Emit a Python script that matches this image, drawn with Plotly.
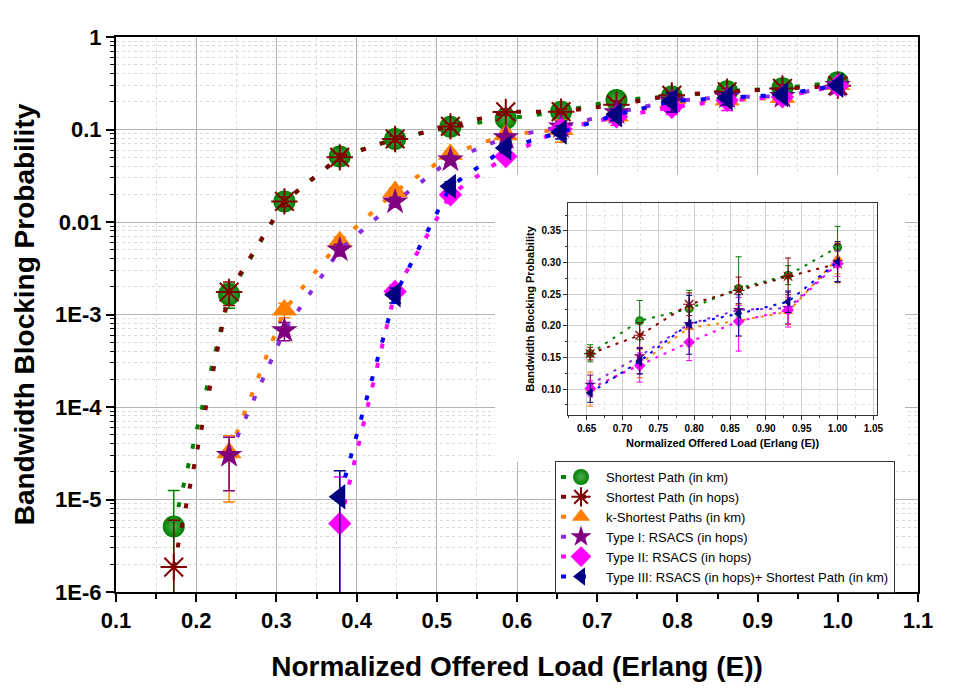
# %%
import plotly.graph_objects as go

# %% Data (13 load points, inset repeats the last 6)
load = [0.172, 0.241, 0.310, 0.379, 0.448, 0.517, 0.586, 0.655, 0.724, 0.793, 0.862, 0.931, 1.000]

sp_km = [5.1e-6, 1.65e-3, 0.0167, 0.051, 0.079, 0.107, 0.131, 0.156, 0.208, 0.227, 0.259, 0.280, 0.324]
sp_km_hi = [7.4e-6, 4.8e-4, 2.5e-3, 5e-3, 6e-3, 7e-3, 0.012, 0.014, 0.032, 0.029, 0.050, 0.015, 0.033]
sp_km_lo = [5.0e-6, 4.8e-4, 2.5e-3, 5e-3, 6e-3, 7e-3, 0.012, 0.013, 0.030, 0.025, 0.045, 0.015, 0.030]

sp_hops = [1.86e-6, 1.75e-3, 0.0167, 0.050, 0.079, 0.108, 0.155, 0.156, 0.185, 0.234, 0.256, 0.278, 0.298]
sp_hops_hi = [4.1e-6, 5e-4, 2e-3, 5e-3, 6e-3, 8e-3, 0.012, 0.010, 0.020, 0.018, 0.021, 0.029, 0.030]
sp_hops_lo = [1.8e-6, 5e-4, 2e-3, 5e-3, 6e-3, 8e-3, 0.012, 0.010, 0.020, 0.018, 0.021, 0.029, 0.030]

ksp_km = [None, 3.2e-5, 1.12e-3, 6.1e-3, 0.0214, 0.054, 0.088, 0.100, 0.140, 0.197, 0.208, 0.222, 0.307]
ksp_km_hi = [None, 1.7e-5, 2e-4, 8e-4, 2e-3, 5e-3, 8e-3, 0.027, 0.022, 0.030, 0.025, 0.020, 0.025]
ksp_km_lo = [None, 2.26e-5, 2e-4, 8e-4, 2e-3, 5e-3, 8e-3, 0.027, 0.022, 0.030, 0.025, 0.020, 0.025]

type1 = [None, 3.0e-5, 6.7e-4, 5.0e-3, 0.0165, 0.047, 0.082, 0.107, 0.152, 0.203, 0.225, 0.228, 0.300]
type1_hi = [None, 1.7e-5, 1.5e-4, 7e-4, 2e-3, 5e-3, 8e-3, 0.015, 0.014, 0.030, 0.020, 0.025, 0.030]
type1_lo = [None, 1.76e-5, 1.5e-4, 7e-4, 2e-3, 5e-3, 8e-3, 0.015, 0.028, 0.030, 0.020, 0.025, 0.030]

type2 = [None, None, None, 5.5e-6, 1.77e-3, 0.0197, 0.051, 0.101, 0.137, 0.174, 0.207, 0.225, 0.298]
type2_hi = [None, None, None, 1.2e-5, 3e-4, 2.5e-3, 6e-3, 0.012, 0.020, 0.029, 0.025, 0.020, 0.020]
type2_lo = [None, None, None, 5.4e-6, 3e-4, 2.5e-3, 6e-3, 0.012, 0.026, 0.029, 0.047, 0.027, 0.020]

type3 = [None, None, None, 1.07e-5, 1.63e-3, 0.0243, 0.063, 0.094, 0.144, 0.203, 0.219, 0.238, 0.301]
type3_hi = [None, None, None, 9.8e-6, 3e-4, 3e-3, 7e-3, 0.015, 0.020, 0.045, 0.030, 0.017, 0.032]
type3_lo = [None, None, None, 1.06e-5, 3e-4, 3e-3, 7e-3, 0.015, 0.020, 0.048, 0.035, 0.017, 0.031]

y_tickvals = [1e-6, 1e-5, 1e-4, 1e-3, 1e-2, 1e-1, 1]
y_ticktext = ['1E-6', '1E-5', '1E-4', '1E-3', '0.01', '0.1', '1']

# %% Series styling: name, y, err+, err-, line colour, marker colour, symbol, size
series = [
    ('Shortest Path (in km)', sp_km, sp_km_hi, sp_km_lo, '#008000', '#008000', 'circle', 22),
    ('Shortest Path (in hops)', sp_hops, sp_hops_hi, sp_hops_lo, '#800000', '#800000', 'asterisk-open', 22),
    ('k-Shortest Paths (in km)', ksp_km, ksp_km_hi, ksp_km_lo, '#FF8000', '#FF8000', 'triangle-up', 22),
    ('Type I: RSACS (in hops)', type1, type1_hi, type1_lo, '#8A2BE2', '#800080', 'star', 20),
    ('Type II: RSACS (in hops)', type2, type2_hi, type2_lo, '#FF00FF', '#FF00FF', 'diamond', 18),
    ('Type III: RSACS (in hops)+ Shortest Path (in km)', type3, type3_hi, type3_lo, '#0000FF', '#000080', 'triangle-left', 22),
]

FONT = 'Liberation Sans, Arial, sans-serif'

def marker_style(sym, col, size):
    m = dict(symbol=sym, size=size, color=col, line=dict(width=0))
    if sym == 'asterisk-open':
        m['line'] = dict(color=col, width=2)
    if sym == 'circle':
        m['gradient'] = dict(type='radial', color='#4fae4f')
    return m

fig = go.Figure()

# main log plot
for name, y, hi, lo, lcol, mcol, sym, size in series:
    fig.add_trace(go.Scatter(
        x=load, y=y, name=name, mode='lines+markers',
        line=dict(color=lcol, width=4, dash='5px,15px'),
        marker=marker_style(sym, mcol, size),
        error_y=dict(type='data', array=hi, arrayminus=lo, color=mcol, thickness=1.5, width=6),
        xaxis='x', yaxis='y',
    ))

# inset (linear scale, high-load region)
for name, y, hi, lo, lcol, mcol, sym, size in series:
    fig.add_trace(go.Scatter(
        x=load[7:], y=y[7:], name=name, mode='lines+markers', showlegend=False,
        line=dict(color=lcol, width=2, dash='3px,6px'),
        marker=marker_style(sym, mcol, 9) if sym != 'asterisk-open'
        else dict(symbol=sym, size=10, line=dict(color=mcol, width=1.2)),
        error_y=dict(type='data', array=hi[7:], arrayminus=lo[7:], color=mcol, thickness=1, width=3),
        xaxis='x2', yaxis='y2',
    ))

# white patch that hides the main grid behind the inset
fig.add_shape(type='rect', xref='x', yref='y', layer='between',
              x0=0.5726, x1=1.0838, y0=10 ** -4.594, y1=10 ** -1.488,
              fillcolor='white', line=dict(width=0))

# page body has an 8px margin, so the plot box is offset by that
fig.update_layout(
    width=957, height=695,
    margin=dict(l=108, r=47, t=29, b=111),
    paper_bgcolor='white', plot_bgcolor='white',
    font=dict(family=FONT, color='black'),
    showlegend=True,
    legend=dict(
        x=0.5474, y=0.236, xanchor='left', yanchor='top',
        bgcolor='white', bordercolor='#333333', borderwidth=1,
        font=dict(family=FONT, size=13, color='black'),
        itemwidth=40, tracegroupgap=0,
    ),
    xaxis=dict(
        range=[0.1, 1.1], tick0=0.1, dtick=0.1, tickformat='.1f',
        showline=True, linecolor='black', linewidth=2, mirror=True,
        ticks='outside', ticklen=8, tickwidth=2, tickcolor='black',
        showgrid=True, gridcolor='#b4b4b4', gridwidth=1, zeroline=False,
        minor=dict(dtick=0.05, ticks='outside', ticklen=5, tickwidth=1.5, tickcolor='black',
                   showgrid=True, gridcolor='#d9d9d9', griddash='dot'),
        tickfont=dict(size=22, weight='bold'),
        title=dict(text='Normalized Offered Load (Erlang (E))', standoff=24,
                   font=dict(size=28, weight='bold')),
    ),
    yaxis=dict(
        type='log', range=[-6, 0],
        tickmode='array', tickvals=y_tickvals, ticktext=y_ticktext,
        showline=True, linecolor='black', linewidth=2, mirror=True,
        ticks='outside', ticklen=8, tickwidth=2, tickcolor='black',
        showgrid=True, gridcolor='#b4b4b4', gridwidth=1, zeroline=False,
        minor=dict(tickmode='array',
                   tickvals=[k * 10 ** e for e in range(-6, 0) for k in range(2, 10)],
                   ticks='outside', ticklen=4, tickwidth=1.2, tickcolor='black',
                   showgrid=True, gridcolor='#d9d9d9', griddash='dot'),
        tickfont=dict(size=22, weight='bold'),
        title=dict(text='Bandwidth Blocking Probability', standoff=12,
                   font=dict(size=28, weight='bold')),
    ),
    xaxis2=dict(
        domain=[0.5636, 0.9489], anchor='y2', range=[0.624, 1.055],
        tick0=0.65, dtick=0.05, tickformat='.2f',
        showline=True, linecolor='#333333', linewidth=1, mirror=True,
        ticks='outside', ticklen=4, tickwidth=1, tickcolor='#333333',
        showgrid=True, gridcolor='#cfcfcf', zeroline=False,
        minor=dict(dtick=0.025, ticks='outside', ticklen=2, tickcolor='#333333',
                   showgrid=True, gridcolor='#e3e3e3', griddash='dot'),
        tickfont=dict(size=10, weight='bold'),
        title=dict(text='Normalized Offered Load (Erlang (E))', standoff=6,
                   font=dict(size=11, weight='bold')),
    ),
    yaxis2=dict(
        domain=[0.3189, 0.7009], anchor='x2', range=[0.059, 0.394],
        tick0=0.1, dtick=0.05, tickformat='.2f',
        showline=True, linecolor='#333333', linewidth=1, mirror=True,
        ticks='outside', ticklen=4, tickwidth=1, tickcolor='#333333',
        showgrid=True, gridcolor='#cfcfcf', zeroline=False,
        minor=dict(dtick=0.025, ticks='outside', ticklen=2, tickcolor='#333333',
                   showgrid=True, gridcolor='#e3e3e3', griddash='dot'),
        tickfont=dict(size=10, weight='bold'),
        title=dict(text='Bandwidth Blocking Probability', standoff=4,
                   font=dict(size=11, weight='bold')),
    ),
)

fig.write_html("out.html")
